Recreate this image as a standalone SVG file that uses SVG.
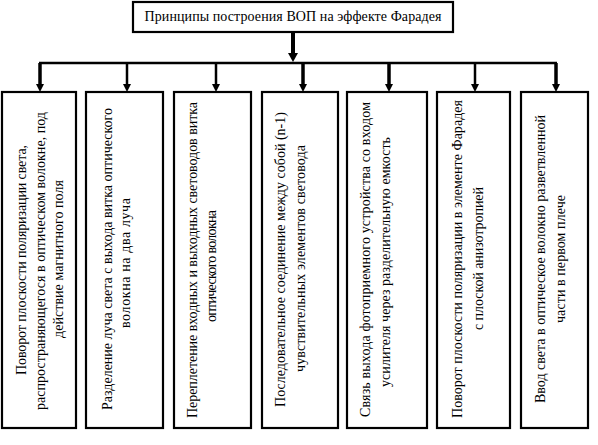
<svg xmlns="http://www.w3.org/2000/svg" width="598" height="445" viewBox="0 0 598 445">
<style>
.box{fill:#fff;stroke:#000;stroke-width:2.2}
.t{font-family:"Liberation Serif","Times New Roman",serif;font-size:14px;fill:#000;text-anchor:middle}
.c{stroke:#000;fill:none}
.thick{stroke-width:3.5}
.thin{stroke-width:2.5}
</style>
<defs>
<marker id="ah" markerUnits="userSpaceOnUse" markerWidth="10" markerHeight="8" refX="0" refY="4" orient="auto">
<path d="M0,0 L8,4 L0,8 z" fill="#000"/>
</marker>
<marker id="ahb" markerUnits="userSpaceOnUse" markerWidth="10" markerHeight="10" refX="0" refY="5" orient="auto">
<path d="M0,0 L9,5 L0,10 z" fill="#000"/>
</marker>
</defs>
<rect width="598" height="445" fill="#fff"/>
<g id="connectors">
<line class="c" x1="293" y1="32" x2="293" y2="53" stroke-width="4" marker-end="url(#ahb)"/>
<line class="c" x1="39" y1="63" x2="557" y2="63" stroke-width="2.5"/>
<line class="c thick" x1="40" y1="63" x2="40" y2="84" marker-end="url(#ah)"/>
<line class="c thin" x1="127" y1="63" x2="127" y2="84" marker-end="url(#ah)"/>
<line class="c thin" x1="216" y1="63" x2="216" y2="84" marker-end="url(#ah)"/>
<line class="c thick" x1="303" y1="63" x2="303" y2="84" marker-end="url(#ah)"/>
<line class="c thick" x1="389" y1="63" x2="389" y2="84" marker-end="url(#ah)"/>
<line class="c thin" x1="475" y1="63" x2="475" y2="84" marker-end="url(#ah)"/>
<line class="c thick" x1="556" y1="63" x2="556" y2="84" marker-end="url(#ah)"/>
</g>
<g id="title">
<rect class="box" x="133" y="2" width="320" height="30"/>
<text class="t" x="293" y="21" textLength="297" lengthAdjust="spacing">Принципы построения ВОП на эффекте Фарадея</text>
</g>
<g id="node1">
<rect class="box" x="2" y="92" width="74" height="336"/>
<text class="t" transform="translate(26,260) rotate(-90)" textLength="230" lengthAdjust="spacing">Поворот плоскости поляризации света,</text>
<text class="t" transform="translate(45,261) rotate(-90)" textLength="298" lengthAdjust="spacing">распространяющегося в оптическом волокне, под</text>
<text class="t" transform="translate(63,259) rotate(-90)" textLength="158" lengthAdjust="spacing">действие магнитного поля</text>
</g>
<g id="node2">
<rect class="box" x="86" y="92" width="77" height="336"/>
<text class="t" transform="translate(112,259) rotate(-90)" textLength="302" lengthAdjust="spacing">Разделение луча света с выхода витка оптического</text>
<text class="t" transform="translate(130,263) rotate(-90)" textLength="130" lengthAdjust="spacing">волокна на два луча</text>
</g>
<g id="node3">
<rect class="box" x="174" y="92" width="77" height="336"/>
<text class="t" transform="translate(197,260) rotate(-90)" textLength="316" lengthAdjust="spacing">Переплетение входных и выходных световодов витка</text>
<text class="t" transform="translate(216,266) rotate(-90)" textLength="112" lengthAdjust="spacing">оптического волокна</text>
</g>
<g id="node4">
<rect class="box" x="262" y="92" width="76" height="336"/>
<text class="t" transform="translate(285,259.5) rotate(-90)" textLength="295" lengthAdjust="spacing">Последовательное соединение между собой (n-1)</text>
<text class="t" transform="translate(305,258.5) rotate(-90)" textLength="227" lengthAdjust="spacing">чувствительных элементов световода</text>
</g>
<g id="node5">
<rect class="box" x="347" y="92" width="80" height="336"/>
<text class="t" transform="translate(370,259.5) rotate(-90)" textLength="315" lengthAdjust="spacing">Связь выхода фотоприемного устройства со входом</text>
<text class="t" transform="translate(390,262) rotate(-90)" textLength="250" lengthAdjust="spacing">усилителя через разделительную емкость</text>
</g>
<g id="node6">
<rect class="box" x="437" y="92" width="73" height="336"/>
<text class="t" transform="translate(462,259) rotate(-90)" textLength="318" lengthAdjust="spacing">Поворот плоскости поляризации в элементе Фарадея</text>
<text class="t" transform="translate(483,258.5) rotate(-90)" textLength="143" lengthAdjust="spacing">с плоской анизотропией</text>
</g>
<g id="node7">
<rect class="box" x="521" y="92" width="67" height="336"/>
<text class="t" transform="translate(545,259) rotate(-90)" textLength="288" lengthAdjust="spacing">Ввод света в оптическое волокно разветвленной</text>
<text class="t" transform="translate(565,259) rotate(-90)" textLength="128" lengthAdjust="spacing">части в первом плече</text>
</g>
</svg>
